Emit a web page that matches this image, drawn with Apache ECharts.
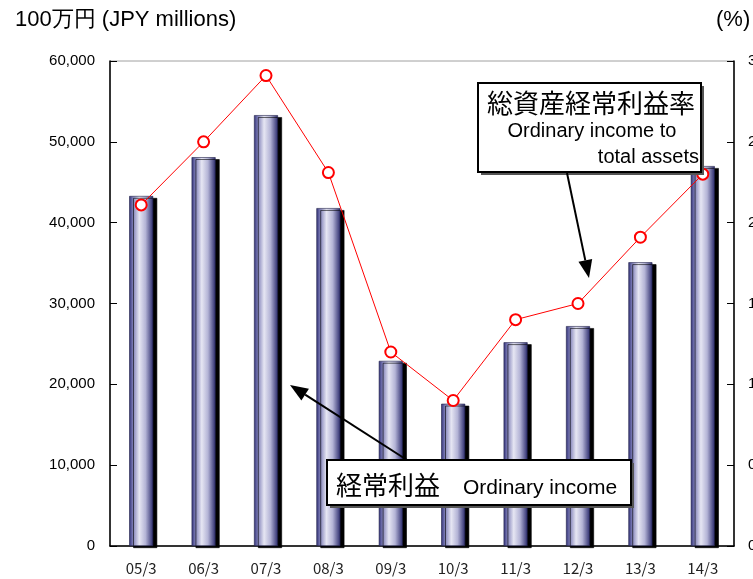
<!DOCTYPE html>
<html>
<head>
<meta charset="utf-8">
<script src="https://cdn.jsdelivr.net/npm/echarts@6/dist/echarts.min.js"></script>
<style>
  html, body { margin: 0; padding: 0; background: #fff; }
  #main { width: 753px; height: 579px; }
</style>
</head>
<body>
<div id="main"></div>
<script>
// 年度（x轴）
const years = ['05/3', '06/3', '07/3', '08/3', '09/3', '10/3', '11/3', '12/3', '13/3', '14/3']
// 经常利益（100万円）
const ordinaryIncome = [43300, 48100, 53300, 41800, 22900, 17600, 25200, 27200, 35100, 47000]
// 总资产经常利益率（%）
const incomeToAssets = [2.11, 2.50, 2.91, 2.31, 1.20, 0.90, 1.40, 1.50, 1.91, 2.30]

const latin = '"Liberation Sans", Arial, sans-serif'
const cjk = '"Noto Sans CJK JP", sans-serif'

// 箭头：直线 + 三角形箭头
function arrow(x1, y1, x2, y2) {
    const dx = x2 - x1, dy = y2 - y1
    const len = Math.sqrt(dx * dx + dy * dy)
    const ux = dx / len, uy = dy / len
    const bx = x2 - ux * 18, by = y2 - uy * 18
    const px = -uy * 7, py = ux * 7
    return [
        { type: 'line', z: 100, shape: { x1: x1, y1: y1, x2: bx, y2: by }, style: { stroke: '#000', lineWidth: 2 } },
        { type: 'polygon', z: 100, shape: { points: [[x2, y2], [bx + px, by + py], [bx - px, by - py]] }, style: { fill: '#000' } }
    ]
}

// 注释框（带阴影）
function box(x, y, w, h) {
    return [
        { type: 'rect', z: 100, shape: { x: x + 3, y: y + 3, width: w, height: h }, style: { fill: '#555' } },
        { type: 'rect', z: 100, shape: { x: x, y: y, width: w, height: h }, style: { fill: '#fff', stroke: '#000', lineWidth: 2 } }
    ]
}

// 注释文字
function label(x, y, text, font, align) {
    return { type: 'text', z: 101, x: x, y: y, style: { text: text, font: font, fill: '#000', align: align || 'left', verticalAlign: 'middle' } }
}

const myChart = echarts.init(document.getElementById('main'))

const options = {
    animation: false,
    grid: {
        left: 110,
        right: 19,
        top: 61,
        bottom: 33,
        outerBoundsMode: 'none',
        show: true,
        borderColor: '#a0a0a0',
        borderWidth: 1
    },
    xAxis: {
        type: 'category',
        data: years,
        axisLine: { lineStyle: { color: '#000', width: 1.5 } },
        axisTick: { inside: true, length: 6, lineStyle: { color: '#000' } },
        axisLabel: { color: '#222', fontFamily: cjk, fontSize: 15, margin: 15 }
    },
    yAxis: [
        {
            type: 'value',
            min: 0,
            max: 60000,
            interval: 10000,
            splitLine: { show: false },
            axisLine: { show: true, lineStyle: { color: '#000', width: 1.5 } },
            axisTick: { show: true, inside: true, length: 7, lineStyle: { color: '#000' } },
            axisLabel: {
                color: '#000',
                fontFamily: latin,
                fontSize: 15,
                margin: 15,
                formatter: (v) => v.toLocaleString('en-US')
            }
        },
        {
            type: 'value',
            min: 0,
            max: 3,
            interval: 0.5,
            splitLine: { show: false },
            axisLine: { show: true, lineStyle: { color: '#000', width: 1.5 } },
            axisTick: { show: true, inside: true, length: 7, lineStyle: { color: '#000' } },
            axisLabel: {
                color: '#000',
                fontFamily: latin,
                fontSize: 15,
                margin: 14,
                formatter: (v) => v.toFixed(1)
            }
        }
    ],
    series: [
        {
            type: 'bar',
            data: ordinaryIncome,
            barWidth: 24,
            itemStyle: {
                color: new echarts.graphic.LinearGradient(0, 0, 1, 0, [
                    { offset: 0, color: '#2e2e74' },
                    { offset: 0.15, color: '#7c7cb6' },
                    { offset: 0.42, color: '#e6e6f3' },
                    { offset: 0.68, color: '#b4b4d6' },
                    { offset: 1, color: '#2a2a6c' }
                ]),
                borderColor: '#22224a',
                borderWidth: 0.6,
                shadowColor: '#000',
                shadowOffsetX: 4,
                shadowOffsetY: 2,
                shadowBlur: 0
            }
        },
        {
            type: 'line',
            yAxisIndex: 1,
            data: incomeToAssets,
            symbol: 'emptyCircle',
            symbolSize: 11,
            color: '#ff0000',
            lineStyle: { color: '#ff0000', width: 1 },
            itemStyle: { color: '#ff0000', borderColor: '#ff0000', borderWidth: 1.2 },
            z: 5
        }
    ],
    graphic: [
        { type: 'text', left: 15, top: 9, style: { text: '100万円 (JPY millions)', font: '22px ' + latin, fill: '#000' } },
        { type: 'text', left: 716, top: 9, style: { text: '(%)', font: '22px ' + latin, fill: '#000' } },
        ...box(478, 83, 223, 89),
        label(591, 103, '総資産経常利益率', '26px ' + cjk, 'center'),
        label(592, 131, 'Ordinary income to', '20px ' + latin, 'center'),
        label(699, 157, 'total assets', '20px ' + latin, 'right'),
        ...arrow(567, 173, 589, 278),
        ...box(327, 460, 304, 45),
        label(336, 485, '経常利益', '26px ' + cjk),
        label(463, 488, 'Ordinary income', '21px ' + latin),
        ...arrow(407, 460, 290, 385)
    ]
}

myChart.setOption(options)
</script>
</body>
</html>
